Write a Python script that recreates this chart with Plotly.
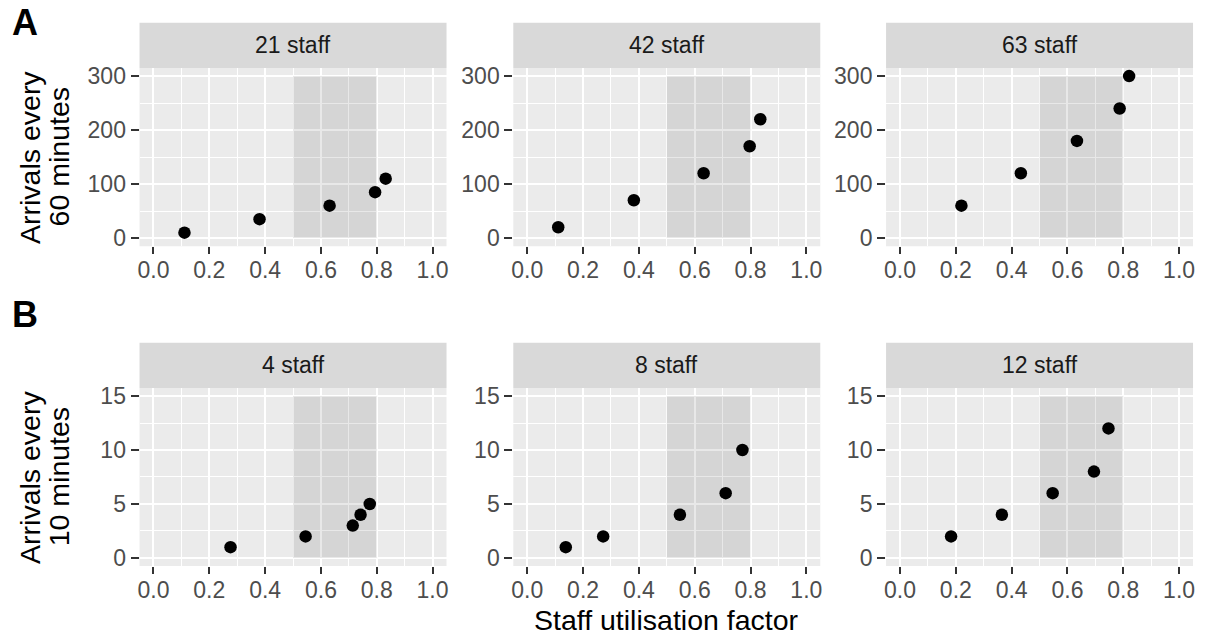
import plotly.graph_objects as go

# ---------------- data ----------------
staff_labels_A = ["21 staff", "42 staff", "63 staff"]
staff_labels_B = ["4 staff", "8 staff", "12 staff"]

util_21 = [0.111, 0.380, 0.631, 0.794, 0.832]
arr_21 = [10, 35, 60, 85, 110]
util_42 = [0.111, 0.382, 0.632, 0.797, 0.835]
arr_42 = [20, 70, 120, 170, 220]
util_63 = [0.220, 0.433, 0.634, 0.787, 0.821]
arr_63 = [60, 120, 180, 240, 300]

util_4 = [0.276, 0.545, 0.714, 0.742, 0.775]
arr_4 = [1, 2, 3, 4, 5]
util_8 = [0.138, 0.272, 0.547, 0.711, 0.771]
arr_8 = [1, 2, 4, 6, 10]
util_12 = [0.183, 0.365, 0.547, 0.695, 0.747]
arr_12 = [2, 4, 6, 8, 12]

band_x = [0.5, 0.8]
band_y_A = [0, 300]
band_y_B = [0, 15]

x_ticks = [0.0, 0.2, 0.4, 0.6, 0.8, 1.0]
y_ticks_A = [0, 100, 200, 300]
y_ticks_B = [0, 5, 10, 15]

y_title_A = ["Arrivals every", "60 minutes"]
y_title_B = ["Arrivals every", "10 minutes"]
x_title = "Staff utilisation factor"

# ---------------- layout geometry (px) ----------------
W, H = 1206, 639
col_px = [(138, 446), (513, 821), (887, 1195)]
row_px = {"A": (64, 245), "B": (389, 570)}
strip_h = 46

FONT = "Liberation Sans"
TICK_SIZE = 23
TITLE_SIZE = 28.5

panels = [
    ("A", 0, staff_labels_A[0], util_21, arr_21, band_y_A, y_ticks_A, 50),
    ("A", 1, staff_labels_A[1], util_42, arr_42, band_y_A, y_ticks_A, 50),
    ("A", 2, staff_labels_A[2], util_63, arr_63, band_y_A, y_ticks_A, 50),
    ("B", 0, staff_labels_B[0], util_4, arr_4, band_y_B, y_ticks_B, 2.5),
    ("B", 1, staff_labels_B[1], util_8, arr_8, band_y_B, y_ticks_B, 2.5),
    ("B", 2, staff_labels_B[2], util_12, arr_12, band_y_B, y_ticks_B, 2.5),
]

fig = go.Figure()
shapes = []
annotations = []
layout = {}

def px_x(x):
    return x / W

def px_y(y):
    return 1 - y / H

for i, (row, col, label, xs, ys, band_y, yticks, yminor) in enumerate(panels, start=1):
    xa = "x" if i == 1 else f"x{i}"
    ya = "y" if i == 1 else f"y{i}"
    xname = "xaxis" if i == 1 else f"xaxis{i}"
    yname = "yaxis" if i == 1 else f"yaxis{i}"
    x0p, x1p = col_px[col]
    y0p, y1p = row_px[row]

    fig.add_trace(go.Scatter(
        x=xs, y=ys, mode="markers", xaxis=xa, yaxis=ya,
        marker=dict(color="black", size=12.5, line=dict(width=0)),
        showlegend=False, hoverinfo="x+y"))

    ymax = max(band_y)
    pad = 0.05 * ymax
    layout[xname] = dict(
        domain=[px_x(x0p), px_x(x1p)], anchor=ya, range=[-0.05, 1.05],
        tickmode="array", tickvals=x_ticks,
        ticktext=[f"{v:.1f}" for v in x_ticks],
        ticks="outside", ticklen=7, tickwidth=2, tickcolor="#333333",
        ticklabelstandoff=-4,
        tickfont=dict(family=FONT, size=TICK_SIZE, color="#4D4D4D"),
        showgrid=True, gridcolor="white", gridwidth=2,
        minor=dict(tickvals=[0.1, 0.3, 0.5, 0.7, 0.9], showgrid=True,
                   gridcolor="white", gridwidth=1, ticks=""),
        zeroline=False, showline=False, fixedrange=True)
    layout[yname] = dict(
        domain=[px_y(y1p), px_y(y0p)], anchor=xa, range=[-pad, ymax + pad],
        tickmode="array", tickvals=yticks, ticktext=[str(v) for v in yticks],
        ticks="outside", ticklen=8, tickwidth=2, tickcolor="#333333",
        tickfont=dict(family=FONT, size=TICK_SIZE, color="#4D4D4D"),
        showgrid=True, gridcolor="white", gridwidth=2,
        minor=dict(tickvals=[yminor, yminor * 3, yminor * 5], showgrid=True,
                   gridcolor="white", gridwidth=1, ticks=""),
        zeroline=False, showline=False, fixedrange=True)

    # panel background
    shapes.append(dict(type="rect", xref="paper", yref="paper",
                       x0=px_x(x0p), x1=px_x(x1p), y0=px_y(y1p), y1=px_y(y0p),
                       fillcolor="#EBEBEB", line=dict(width=0), layer="below"))
    # strip
    shapes.append(dict(type="rect", xref="paper", yref="paper",
                       x0=px_x(x0p), x1=px_x(x1p), y0=px_y(y0p), y1=px_y(y0p - strip_h),
                       fillcolor="#D9D9D9", line=dict(width=0), layer="below"))
    annotations.append(dict(text=label, xref="paper", yref="paper",
                            x=px_x((x0p + x1p) / 2), y=px_y(y0p - strip_h / 2),
                            xanchor="center", yanchor="middle", showarrow=False,
                            font=dict(family=FONT, size=TICK_SIZE, color="#1A1A1A")))
    # shaded utilisation band
    shapes.append(dict(type="rect", xref=xa, yref=ya,
                       x0=band_x[0], x1=band_x[1], y0=band_y[0], y1=band_y[1],
                       fillcolor="rgba(0,0,0,0.09)", line=dict(width=0), layer="between"))

# y-axis titles (two lines each)
for row, lines in (("A", y_title_A), ("B", y_title_B)):
    y0p, y1p = row_px[row]
    for k, (txt, xc) in enumerate(zip(lines, (28, 57.5))):
        annotations.append(dict(text=txt, xref="paper", yref="paper",
                                x=px_x(xc), y=px_y((y0p + y1p) / 2),
                                xanchor="center", yanchor="middle", textangle=-90,
                                showarrow=False,
                                font=dict(family=FONT, size=TITLE_SIZE, color="black")))

# x-axis title
annotations.append(dict(text=x_title, xref="paper", yref="paper",
                        x=px_x(667), y=px_y(625), xanchor="center", yanchor="middle",
                        showarrow=False,
                        font=dict(family=FONT, size=TITLE_SIZE, color="black")))

# panel tags
for tag, yc in (("A", 18), ("B", 314)):
    annotations.append(dict(text=f"<b>{tag}</b>", xref="paper", yref="paper",
                            x=px_x(8), y=px_y(yc), xanchor="left", yanchor="middle",
                            showarrow=False,
                            font=dict(family=FONT, size=36, color="black")))

fig.update_layout(
    width=W, height=H, autosize=False,
    margin=dict(l=0, r=0, t=0, b=0),
    paper_bgcolor="white", plot_bgcolor="rgba(0,0,0,0)",
    shapes=shapes, annotations=annotations, **layout)

fig.write_html("out.html", config={"displayModeBar": False},
               post_script="document.body.style.margin='0';document.body.style.overflow='hidden';")
